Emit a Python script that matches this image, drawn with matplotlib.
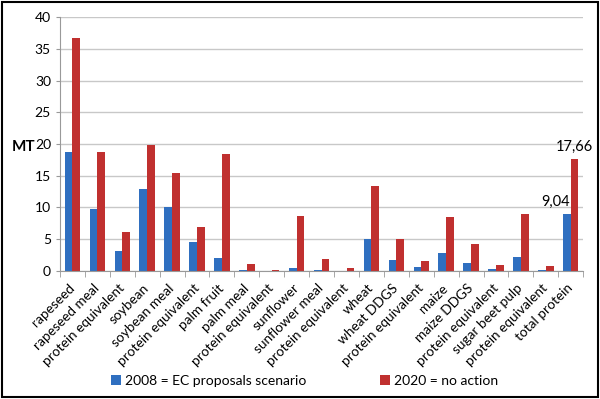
import numpy as np
import matplotlib.pyplot as plt
from matplotlib.patches import Rectangle

categories = ["rapeseed", "rapeseed meal", "protein equivalent", "soybean", "soybean meal",
              "protein equivalent", "palm fruit", "palm meal", "protein equivalent", "sunflower",
              "sunflower meal", "protein equivalent", "wheat", "wheat DDGS", "protein equivalent",
              "maize", "maize DDGS", "protein equivalent", "sugar beet pulp", "protein equivalent",
              "total protein"]
s2008 = [18.7, 9.7, 3.2, 12.9, 10.1, 4.5, 2.0, 0.15, 0.05, 0.5,
         0.1, 0.05, 5.0, 1.8, 0.6, 2.9, 1.3, 0.3, 2.25, 0.15, 9.04]
s2020 = [36.7, 18.8, 6.2, 19.9, 15.5, 6.9, 18.5, 1.1, 0.15, 8.7,
         1.9, 0.5, 13.4, 5.0, 1.6, 8.5, 4.2, 1.0, 9.0, 0.8, 17.66]
label_2008 = "2008 = EC proposals scenario"
label_2020 = "2020 = no action"

plt.rcParams['font.family'] = ['Lato', 'DejaVu Sans']

fig = plt.figure(figsize=(6.0, 3.99), dpi=100)
ax = fig.add_axes([0.1, 0.321, 0.872, 0.636])

x = np.arange(len(categories))
w = 0.31
b1 = ax.bar(x - w / 2, s2008, w, color="#2f6fc0", label=label_2008)
b2 = ax.bar(x + w / 2, s2020, w, color="#c0302f", label=label_2020)

ax.set_xlim(-0.5, len(categories) - 0.5)
ax.set_ylim(0, 40)
ax.set_yticks(range(0, 41, 5))
ax.yaxis.grid(True, color="#c8c8c8", linewidth=1)
ax.set_axisbelow(True)
ax.tick_params(axis='y', labelsize=10, length=3, color="#999999")

ax.set_xticks(x)
ax.set_xticklabels(categories, rotation=45, ha='right', va='center',
                   rotation_mode='anchor', fontsize=9.8)
ax.tick_params(axis='x', length=0, pad=11)
ax.set_xticks(np.arange(len(categories) + 1) - 0.5, minor=True)
ax.tick_params(axis='x', which='minor', length=4, color="#999999")

for s in ["top", "right"]:
    ax.spines[s].set_visible(False)
for s in ["left", "bottom"]:
    ax.spines[s].set_color("#999999")

# data labels on total protein
i = len(categories) - 1
ax.annotate("9,04", xy=(i - w / 2, s2008[i]), xytext=(-11, 5), textcoords='offset pixels',
            ha='center', va='bottom', fontsize=10.5)
ax.annotate("17,66", xy=(i + w / 2, s2020[i]), xytext=(0, 5), textcoords='offset pixels',
            ha='center', va='bottom', fontsize=10.5)

fig.text(0.02, 1 - 147 / 399, "MT", fontsize=11, fontweight='bold', va='center', ha='left')

fig.legend(handles=[b1, b2], loc='center', bbox_to_anchor=(0.508, 0.045), ncol=2, frameon=False,
           fontsize=10, handlelength=0.7, handleheight=0.7, handletextpad=0.3, columnspacing=5.3)

fig.patches.append(Rectangle((0.004, 0.006), 0.992, 0.99, transform=fig.transFigure,
                             fill=False, edgecolor='black', linewidth=1.5))

fig.savefig("out.png", dpi=100)
